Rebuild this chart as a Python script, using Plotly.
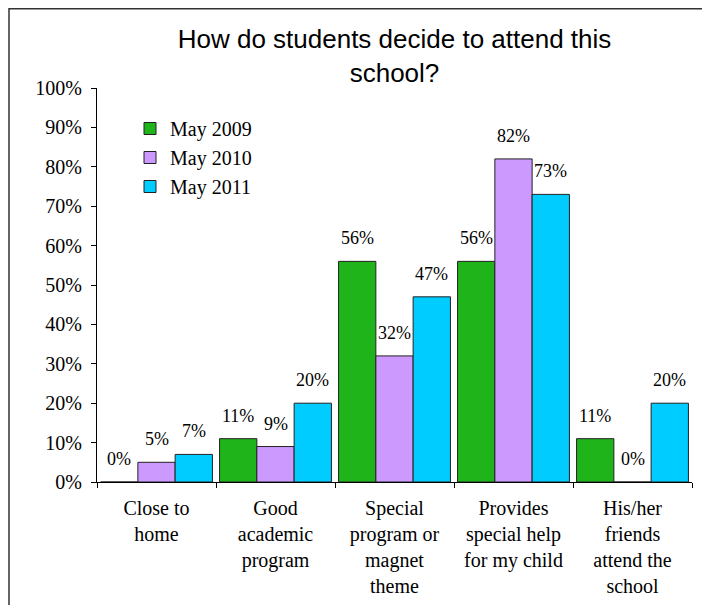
import plotly.graph_objects as go

categories = ["Close to<br>home", "Good<br>academic<br>program", "Special<br>program or<br>magnet<br>theme",
              "Provides<br>special help<br>for my child", "His/her<br>friends<br>attend the<br>school"]
series_names = ["May 2009", "May 2010", "May 2011"]
may_2009 = [0, 11, 56, 56, 11]
may_2010 = [5, 9, 32, 82, 0]
may_2011 = [7, 20, 47, 73, 20]
colors = ["#1fb41a", "#cc99ff", "#00ccff"]
y_ticks = [0, 10, 20, 30, 40, 50, 60, 70, 80, 90, 100]
y_tick_labels = [f"{v}%" for v in y_ticks]

W, H = 710, 605
OFF = 8  # page body margin offset
PLOT_L, PLOT_R, PLOT_T, PLOT_B = 97 - OFF, 692 - OFF, 88 - OFF, 482 - OFF
ML, MR, MT, MB = PLOT_L, W - PLOT_R, PLOT_T, H - PLOT_B
BARGAP = 0.06
plot_w = PLOT_R - PLOT_L
plot_h = PLOT_B - PLOT_T


def px_x(px):
    return (px - OFF - PLOT_L) / plot_w


def px_y(py):
    return (PLOT_B - (py - OFF)) / plot_h


serif = "Liberation Serif"
sans = "Liberation Sans"

fig = go.Figure()
all_series = [may_2009, may_2010, may_2011]
for name, vals, col in zip(series_names, all_series, colors):
    fig.add_trace(go.Bar(x=categories, y=vals, name=name,
                         marker=dict(color=col, line=dict(color="#222222", width=1))))

# data labels above bars
bar_w = plot_w / len(categories) * (1 - BARGAP) / len(all_series)
annotations = []
for i, vals in enumerate(all_series):
    for c, v in zip(categories, vals):
        annotations.append(dict(x=c, y=v, xref="x", yref="y", text=f"{v}%", showarrow=False,
                                xshift=(i - 1) * bar_w, yshift=23, yanchor="middle",
                                font=dict(family=serif, size=18, color="#000")))

fig.update_layout(
    width=W, height=H,
    margin=dict(l=ML, r=MR, t=MT, b=MB),
    paper_bgcolor="white", plot_bgcolor="white",
    barmode="group", bargap=BARGAP, bargroupgap=0,
    title=dict(text="How do students decide to attend this<br>school?", x=0.5, xref="paper",
               xanchor="center", y=1 - 40 / H, yref="container", yanchor="top",
               font=dict(family=sans, size=26, color="#000")),
    legend=dict(x=px_x(130), y=px_y(109), xanchor="left", yanchor="top",
                font=dict(family=serif, size=20, color="#000"), bgcolor="rgba(0,0,0,0)",
                tracegroupgap=0),
    annotations=annotations,
    showlegend=True,
    xaxis=dict(showline=True, linecolor="#000", linewidth=1, ticks="outside", ticklen=5,
               tickcolor="#000", tickson="boundaries", showgrid=False,
               tickfont=dict(family=serif, size=20, color="#000"), ticklabelstandoff=8),
    yaxis=dict(range=[0, 100], tickmode="array", tickvals=y_ticks, ticktext=y_tick_labels,
               showline=True, linecolor="#000", linewidth=1, ticks="outside", ticklen=5,
               tickcolor="#000", showgrid=False, zeroline=False,
               tickfont=dict(family=serif, size=20, color="#000"), ticklabelstandoff=5),
)

# outer chart border
fig.add_shape(type="rect", xref="paper", yref="paper",
              x0=px_x(9), x1=px_x(704), y0=px_y(640), y1=px_y(OFF + 0.75),
              line=dict(color="#333333", width=1.5), fillcolor="rgba(0,0,0,0)", layer="below")

fig.write_html("out.html")
